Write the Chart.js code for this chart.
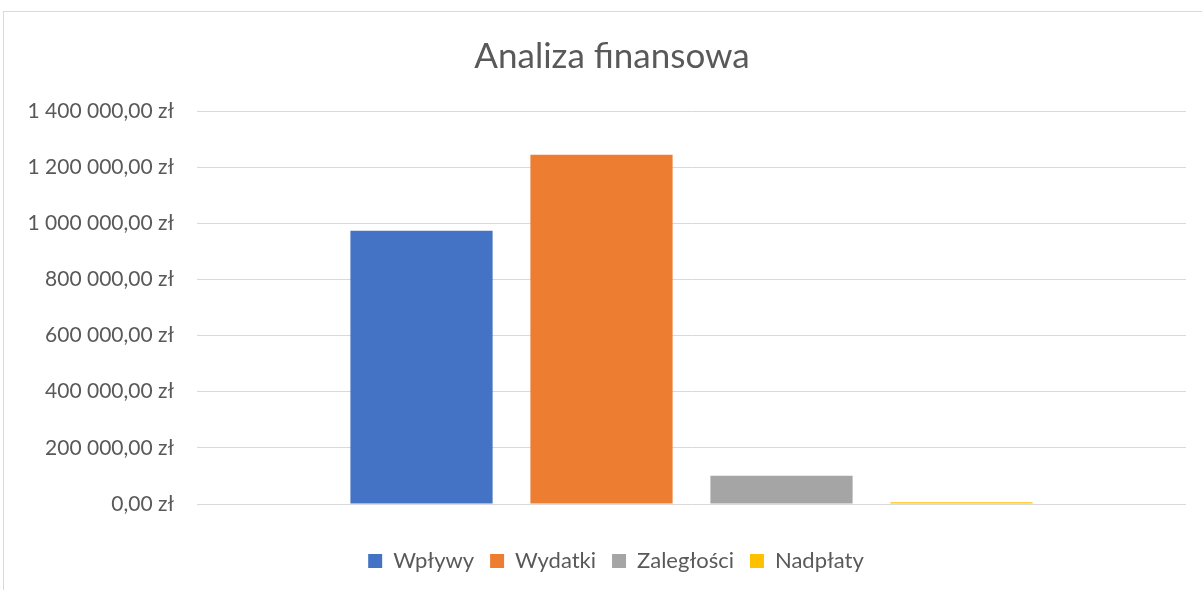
<!DOCTYPE html>
<html>
<head>
<meta charset="utf-8">
<script src="https://cdn.jsdelivr.net/npm/chart.js@4"></script>
<style>
  html, body { margin: 0; padding: 0; background: #fff; overflow: hidden; }
  #frame { position: absolute; left: 3px; top: 11px; width: 1220px; height: 620px; border: 1px solid #d9d9d9; }
  #wrap { position: absolute; left: 0; top: 0; width: 1202px; height: 590px; }
</style>
</head>
<body>
<div id="frame"></div>
<div id="wrap"><canvas id="chart"></canvas></div>
<script>
// dane wykresu
const seriesNames = ['Wpływy', 'Wydatki', 'Zaległości', 'Nadpłaty'];
const seriesValues = [973000, 1244000, 101000, 6000];
const seriesColors = ['#4472C4', '#ED7D31', '#A5A5A5', '#FFC000'];
const categories = [''];
const yMin = 0, yMax = 1400000, yStep = 200000;

const fontFamily = 'Lato, "Noto Sans", sans-serif';
const textColor = '#595959';

// 1 400 000,00 zł
function formatZl(v) {
  const parts = v.toFixed(2).split('.');
  const intPart = parts[0].replace(/\B(?=(\d{3})+(?!\d))/g, ' ');
  return intPart + ',' + parts[1] + ' zł';
}

// Excel centruje tytuł i legendę względem całej ramki, nie obszaru wykresu
const shiftBlocks = {
  id: 'shiftBlocks',
  afterLayout(chart) {
    if (chart.titleBlock) { chart.titleBlock.left += 19; chart.titleBlock.right += 19; }
    if (chart.legend) { chart.legend.left += 23; chart.legend.right += 23; }
  }
};

const ctx = document.getElementById('chart').getContext('2d');
new Chart(ctx, {
  type: 'bar',
  data: {
    labels: categories,
    datasets: seriesNames.map((name, i) => ({
      label: name,
      data: [seriesValues[i]],
      backgroundColor: seriesColors[i],
      borderWidth: 0,
      barPercentage: 0.79,
      categoryPercentage: 0.728
    }))
  },
  options: {
    responsive: true,
    maintainAspectRatio: false,
    animation: false,
    layout: { padding: { left: 0, right: 16, top: 0, bottom: 8 } },
    plugins: {
      title: {
        display: true,
        text: 'Analiza finansowa',
        color: textColor,
        font: { family: fontFamily, size: 35, weight: 'normal' },
        padding: { top: 36, bottom: 33 }
      },
      legend: {
        position: 'bottom',
        labels: {
          color: textColor,
          font: { family: fontFamily, size: 22 },
          boxWidth: 14,
          boxHeight: 14,
          padding: 16
        }
      },
      tooltip: { enabled: false }
    },
    scales: {
      x: {
        grid: { display: false },
        border: { display: false },
        ticks: { display: false },
        afterFit: (s) => { s.height = 30; }
      },
      y: {
        min: yMin,
        max: yMax,
        ticks: {
          stepSize: yStep,
          color: textColor,
          font: { family: fontFamily, size: 21 },
          padding: 23,
          callback: (v) => formatZl(v)
        },
        grid: { color: '#d9d9d9', lineWidth: 1, drawTicks: false },
        border: { display: false },
        afterFit: (s) => { s.width = 197; }
      }
    }
  },
  plugins: [shiftBlocks]
});
</script>
</body>
</html>
